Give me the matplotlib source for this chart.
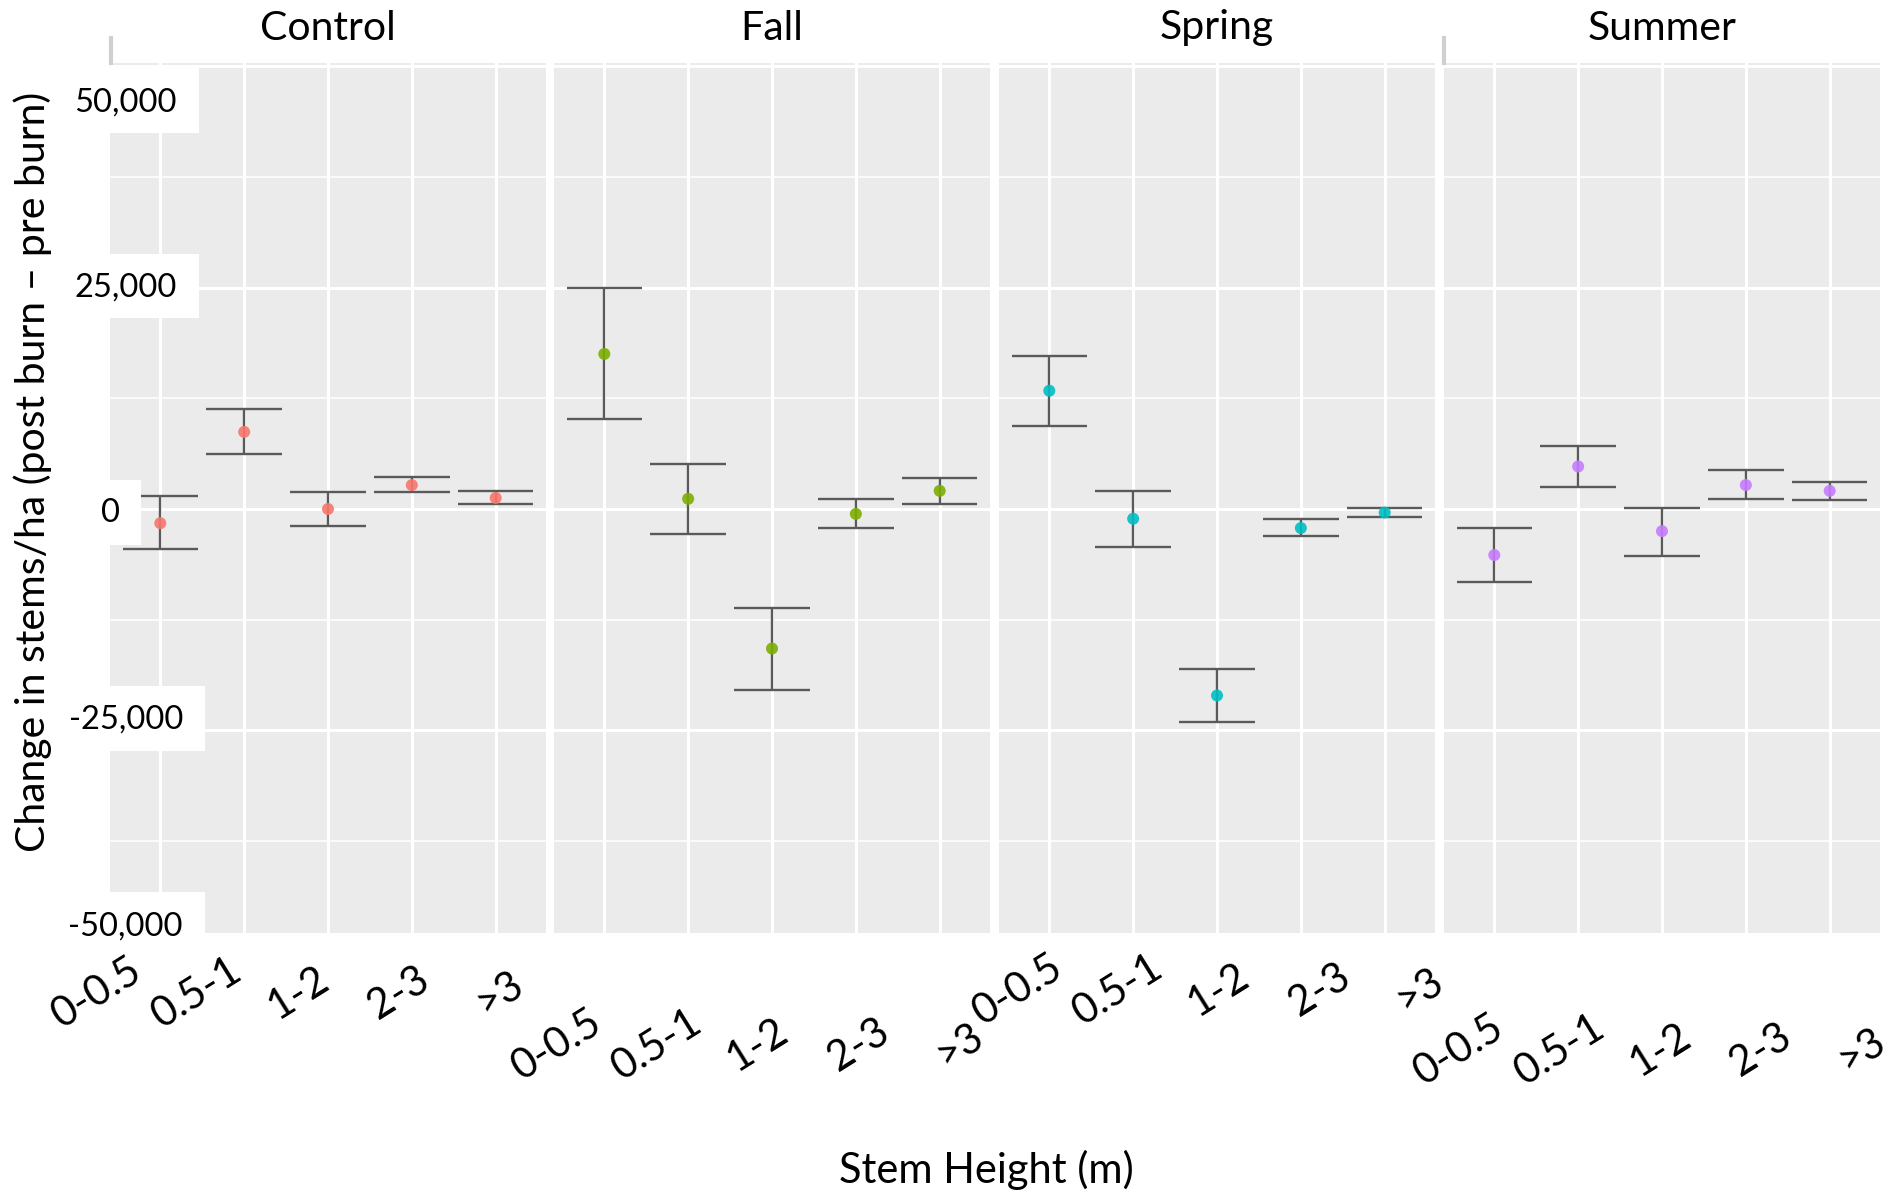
import matplotlib.pyplot as plt
import matplotlib.transforms as mtransforms
from matplotlib.patches import Rectangle
from matplotlib.lines import Line2D

plt.rcParams['font.family'] = ['Lato', 'DejaVu Sans']

stem_classes = ['0-0.5', '0.5-1', '1-2', '2-3', '>3']
seasons = ['Control', 'Fall', 'Spring', 'Summer']
season_colors = ['#F8766D', '#7CAE00', '#00BFC4', '#C77CFF']

control_mean = [-1600, 8700, 0, 2700, 1250]
control_low = [-4550, 6200, -1900, 1900, 550]
control_high = [1450, 11250, 1900, 3600, 2000]

fall_mean = [17500, 1150, -15750, -550, 2050]
fall_low = [10200, -2800, -20450, -2200, 600]
fall_high = [24900, 5100, -11150, 1150, 3550]

spring_mean = [13350, -1100, -21050, -2150, -400]
spring_low = [9400, -4300, -24050, -3100, -850]
spring_high = [17250, 2050, -18050, -1150, 100]

summer_mean = [-5200, 4800, -2500, 2700, 2050]
summer_low = [-8250, 2500, -5250, 1150, 1050]
summer_high = [-2150, 7150, 150, 4350, 3000]

means = [control_mean, fall_mean, spring_mean, summer_mean]
lows = [control_low, fall_low, spring_low, summer_low]
highs = [control_high, fall_high, spring_high, summer_high]

ytick_labels = ['50,000', '25,000', '0', '-25,000', '-50,000']

W, H = 1887, 1193
fig = plt.figure(figsize=(W / 100, H / 100), dpi=100)

# panel geometry in pixels (ggplot facet_wrap look)
panel_left = [110, 554, 999, 1444]
panel_w = 436
panel_top, panel_bot = 63, 933
ylim = (-47857, 50340)

# where the (pasted) rotated tick labels sit, per panel
lab_offset = [-0.76, -0.57, -0.38, -0.42]
lab_y = [993, 1045, 990, 1050]

axes = []
for k, season in enumerate(seasons):
    ax = fig.add_axes([panel_left[k] / W, 1 - panel_bot / H,
                       panel_w / W, (panel_bot - panel_top) / H])
    ax.set_facecolor('#EBEBEB')
    x = list(range(len(stem_classes)))
    ax.set_xlim(-0.6, 4.6)
    ax.set_ylim(*ylim)
    ax.set_xticks(x)
    ax.set_xticklabels([])
    ax.set_yticks([-25000, 0, 25000, 50000])
    ax.set_yticks([-37500, -12500, 12500, 37500], minor=True)
    ax.set_yticklabels([])
    ax.tick_params(which='both', length=0)
    ax.grid(which='major', color='white', lw=2.2)
    ax.grid(which='minor', axis='y', color='white', lw=1.1)
    ax.set_axisbelow(True)
    for s in ax.spines.values():
        s.set_visible(False)

    ax.vlines(x, lows[k], highs[k], color='#5a5a5a', lw=1.7, zorder=3)
    ax.hlines(lows[k], [i - 0.45 for i in x], [i + 0.45 for i in x],
              color='#5a5a5a', lw=1.7, zorder=3)
    ax.hlines(highs[k], [i - 0.45 for i in x], [i + 0.45 for i in x],
              color='#5a5a5a', lw=1.7, zorder=3)
    ax.scatter(x, means[k], s=75, color=season_colors[k], alpha=0.9,
               edgecolors='none', zorder=4)

    # facet strip text
    fig.text((panel_left[k] + panel_w / 2) / W, 1 - 28 / H, season,
             ha='center', va='center', fontsize=29.5)

    # staggered, rotated category labels
    trans = mtransforms.blended_transform_factory(ax.transData, fig.transFigure)
    for i, lab in enumerate(stem_classes):
        ax.text(lab_offset[k] + 1.2 * i, 1 - lab_y[k] / H, lab,
                transform=trans, rotation=32, rotation_mode='anchor',
                ha='center', va='center', fontsize=30, clip_on=False)
    axes.append(ax)

# small grey edges left over on the strips
for xp in (111, 1444):
    fig.add_artist(Line2D([xp / W, xp / W], [1 - 38 / H, 1 - 63 / H],
                          color='#d0d0d0', lw=3))

# white boxes holding the y tick labels, drawn over the first panel
boxes = [(69, 68, 199, 133), (69, 254, 199, 318), (60, 480, 141, 545),
         (0, 686, 205, 751), (0, 892, 205, 933)]
text_right = [177, 177, 120, 183, 183]
text_y = [103, 288, 513, 720, 927]
for (x0, y0, x1, y1), xr, yc, lab in zip(boxes, text_right, text_y, ytick_labels):
    fig.add_artist(Rectangle((x0 / W, 1 - y1 / H), (x1 - x0) / W, (y1 - y0) / H,
                             transform=fig.transFigure, facecolor='white',
                             edgecolor='none', zorder=5))
    fig.text(xr / W, 1 - yc / H, lab, ha='right', va='center',
             fontsize=23.5, zorder=6)

fig.text(33 / W, 1 - 472 / H, 'Change in stems/ha (post burn \u2013 pre burn)',
         rotation=90, ha='center', va='center', fontsize=29.5, zorder=7)
fig.text(986 / W, 1 - 1170 / H, 'Stem Height (m)', ha='center', va='center',
         fontsize=30)

fig.savefig('out.png', dpi=100, facecolor='white')
